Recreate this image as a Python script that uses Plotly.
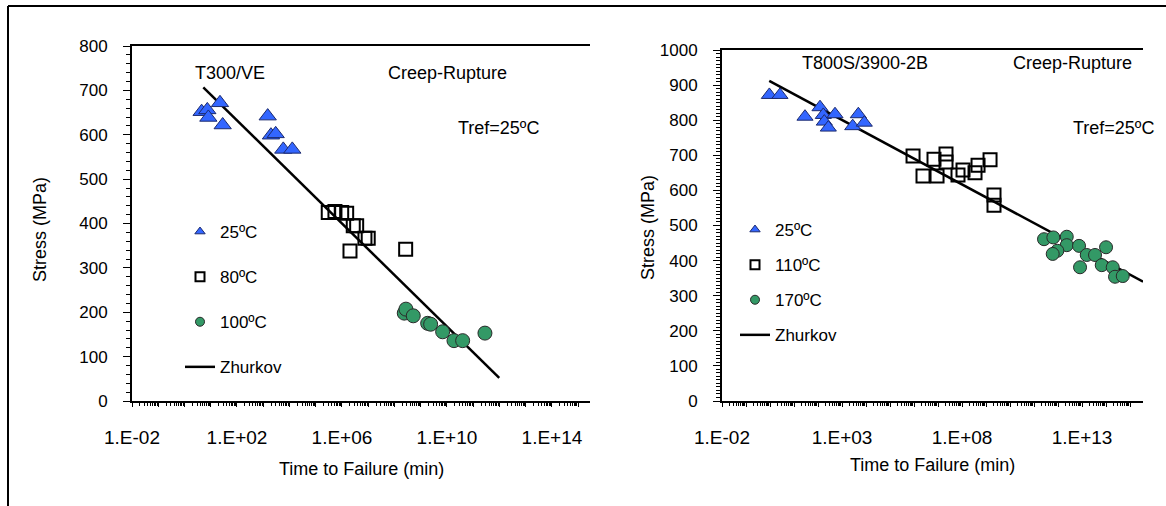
import plotly.graph_objects as go

# ---------------- data: left panel (T300/VE) ----------------
L_t_25 = [4.5, 7.4, 8.1, 22.5, 28.5, 1480, 1970, 2980, 5800, 12800]
L_s_25 = [652, 656, 639, 672, 622, 642, 599, 602, 567, 567]
L_t_80 = [3.0e5, 5.4e5, 9.75e5, 1.51e6, 2.69e6, 3.63e6, 7.5e6, 1.0e7, 2.02e6, 2.67e8]
L_s_80 = [425, 427, 425, 423, 395, 395, 367, 367, 338, 342]
L_t_100 = [2.36e8, 2.74e8, 5.2e8, 1.84e9, 2.39e9, 6.85e9, 1.85e10, 3.96e10, 2.8e11]
L_s_100 = [198, 207, 192, 175, 173, 156, 136, 136, 153]
L_t_fit = [5.2, 9.8e11]
L_s_fit = [707, 52]
L_xtick_exp = list(range(-2, 16))
L_xlabel_exp = [-2, 2, 6, 10, 14]

# ---------------- data: right panel (T800S/3900-2B) ----------------
R_t_25 = [0.94, 2.6, 28.7, 121, 166, 183, 269, 511, 4780, 2790, 8490]
R_s_25 = [872, 872, 810, 837, 815, 796, 779, 817, 817, 783, 793]
R_t_110 = [9.1e5, 2.37e6, 9.1e6, 6.8e6, 2.15e7, 2.15e7, 6.8e7, 1.1e8, 3.48e8, 4.65e8, 1.47e9, 2.15e9, 2.15e9]
R_s_110 = [698, 641, 641, 689, 704, 681, 644, 658, 650, 672, 687, 587, 558]
R_t_170 = [2.61e11, 6.37e11, 2.31e12, 2.31e12, 9.35e11, 6.0e11, 7.5e12, 1.57e13, 3.48e13, 1.0e14,
           8.26e12, 6.62e13, 1.9e14, 2.37e14, 4.97e14]
R_s_170 = [461, 466, 468, 444, 428, 419, 442, 416, 416, 438, 381, 387, 381, 354, 356]
R_t_fit = [0.93, 3.5e15]
R_s_fit = [912, 340]
R_xtick_exp = list(range(-2, 16))
R_xlabel_exp = [-2, 3, 8, 13]

# ---------------- styling ----------------
W, H = 1166, 506
FONT = "Liberation Sans, Arial, sans-serif"
BLUE = "#3366FF"
GREEN = "#339966"


def px(x):
    return x / W


def py(y):
    return 1 - y / H


def fmt(e):
    return "1.E%+03d" % e if e >= 0 else "1.E-%02d" % (-e)


fig = go.Figure()

tri = dict(symbol="triangle-up", color=BLUE, line=dict(color="#1c2a6e", width=1))
sq = dict(symbol="square-open", color="black", line=dict(color="black", width=2))
circ = dict(symbol="circle", color=GREEN, line=dict(color="#2a2a2a", width=1))


def add_panel(xa, ya, leg, t25, s25, tm, sm, th, sh, tf, sf, names, tri_size, sq_size, c_size):
    fig.add_trace(go.Scatter(x=tm, y=sm, mode="markers", xaxis=xa, yaxis=ya, showlegend=False,
                             marker=dict(size=sq_size, **sq)))
    fig.add_trace(go.Scatter(x=tf, y=sf, mode="lines", xaxis=xa, yaxis=ya, showlegend=False,
                             line=dict(color="black", width=2.5)))
    fig.add_trace(go.Scatter(x=th, y=sh, mode="markers", xaxis=xa, yaxis=ya, showlegend=False,
                             marker=dict(size=c_size, **circ)))
    fig.add_trace(go.Scatter(x=t25, y=s25, mode="markers", xaxis=xa, yaxis=ya, showlegend=False,
                             marker=dict(size=tri_size, **tri)))
    # legend entries
    for i, (nm, mk) in enumerate(zip(names[:3], [tri, sq, circ])):
        fig.add_trace(go.Scatter(x=[None], y=[None], mode="markers", xaxis=xa, yaxis=ya,
                                 name=nm, legend=leg, legendgroup=leg + str(i),
                                 marker=dict(size=9, **mk)))
    fig.add_trace(go.Scatter(x=[None], y=[None], mode="lines", xaxis=xa, yaxis=ya,
                             name=names[3], legend=leg, legendgroup=leg + "3",
                             line=dict(color="black", width=2.5)))


add_panel("x", "y", "legend", L_t_25, L_s_25, L_t_80, L_s_80, L_t_100, L_s_100, L_t_fit, L_s_fit,
          ["25ºC", "80ºC", "100ºC", "Zhurkov"], 15, 13, 14)
add_panel("x2", "y2", "legend2", R_t_25, R_s_25, R_t_110, R_s_110, R_t_170, R_s_170, R_t_fit, R_s_fit,
          ["25ºC", "110ºC", "170ºC", "Zhurkov"], 14, 13, 13)


def xaxis_cfg(domain, exps, label_exps, rmax):
    minor_vals = [m * 10.0 ** e for e in exps[:-1] for m in range(2, 10)]
    return dict(type="log", domain=domain, range=[-2, rmax], automargin=False,
                tickmode="array", tickvals=[10.0 ** e for e in exps],
                ticktext=[fmt(e) if e in label_exps else "" for e in exps],
                ticks="outside", ticklen=4, tickwidth=1, tickcolor="black",
                minor=dict(tickmode="array", tickvals=minor_vals, ticks="outside", ticklen=3,
                           tickcolor="black", tickwidth=1),
                showline=True, linecolor="black", linewidth=2, mirror=True,
                showgrid=False, zeroline=False, ticklabelstandoff=14,
                tickfont=dict(family=FONT, size=19, color="black"))


def yaxis_cfg(domain, rmax, minor_dt, anchor):
    return dict(domain=domain, range=[0, rmax], dtick=100, anchor=anchor, automargin=False,
                ticks="outside", ticklen=7, tickwidth=1, tickcolor="black",
                minor=dict(dtick=minor_dt, ticks="outside", ticklen=4, tickcolor="black", tickwidth=1),
                showline=True, linecolor="black", linewidth=2,
                showgrid=False, zeroline=False, ticklabelstandoff=12,
                tickfont=dict(family=FONT, size=17, color="black"))


fig.update_layout(
    width=W, height=H, margin=dict(l=0, r=0, t=0, b=0, pad=0, autoexpand=False),
    paper_bgcolor="white", plot_bgcolor="white",
    xaxis=xaxis_cfg([px(132), px(590)], L_xtick_exp, L_xlabel_exp, 15.45) | dict(anchor="y"),
    yaxis=yaxis_cfg([py(401), py(46)], 800, 20, "x"),
    xaxis2=xaxis_cfg([px(722), px(1143)], R_xtick_exp, R_xlabel_exp, 15.54) | dict(anchor="y2"),
    yaxis2=yaxis_cfg([py(401), py(50)], 1000, 10, "x2"),
    legend=dict(x=px(180), y=py(214), xanchor="left", yanchor="top", tracegroupgap=20,
                font=dict(family=FONT, size=17, color="black"), bgcolor="rgba(0,0,0,0)",
                traceorder="grouped"),
    legend2=dict(x=px(735), y=py(212), xanchor="left", yanchor="top", tracegroupgap=10,
                 font=dict(family=FONT, size=17, color="black"), bgcolor="rgba(0,0,0,0)",
                 traceorder="grouped"),
    showlegend=True,
)

ann = [
    ("T300/VE", 230, 73, 0), ("Creep-Rupture", 447, 73, 0), ("Tref=25ºC", 498, 128, 0),
    ("T800S/3900-2B", 865, 63, 0), ("Creep-Rupture", 1072, 63, 0), ("Tref=25ºC", 1113, 128, 0),
    ("Time to Failure (min)", 361, 469, 0), ("Time to Failure (min)", 932, 465, 0),
    ("Stress (MPa)", 40, 230, -90), ("Stress (MPa)", 648, 228, -90),
]
for txt, x, y, ang in ann:
    fig.add_annotation(text=txt, x=px(x), y=py(y), xref="paper", yref="paper", showarrow=False,
                       textangle=ang, xanchor="center", yanchor="middle",
                       font=dict(family=FONT, size=18, color="black"))

# outer frame (left and top edges)
fig.add_shape(type="line", xref="paper", yref="paper", x0=px(8), y0=-0.05, x1=px(8), y1=py(6),
              line=dict(color="black", width=2))
fig.add_shape(type="line", xref="paper", yref="paper", x0=px(8), y0=py(6), x1=1.05, y1=py(6),
              line=dict(color="black", width=2))

fig.write_html("out.html")
